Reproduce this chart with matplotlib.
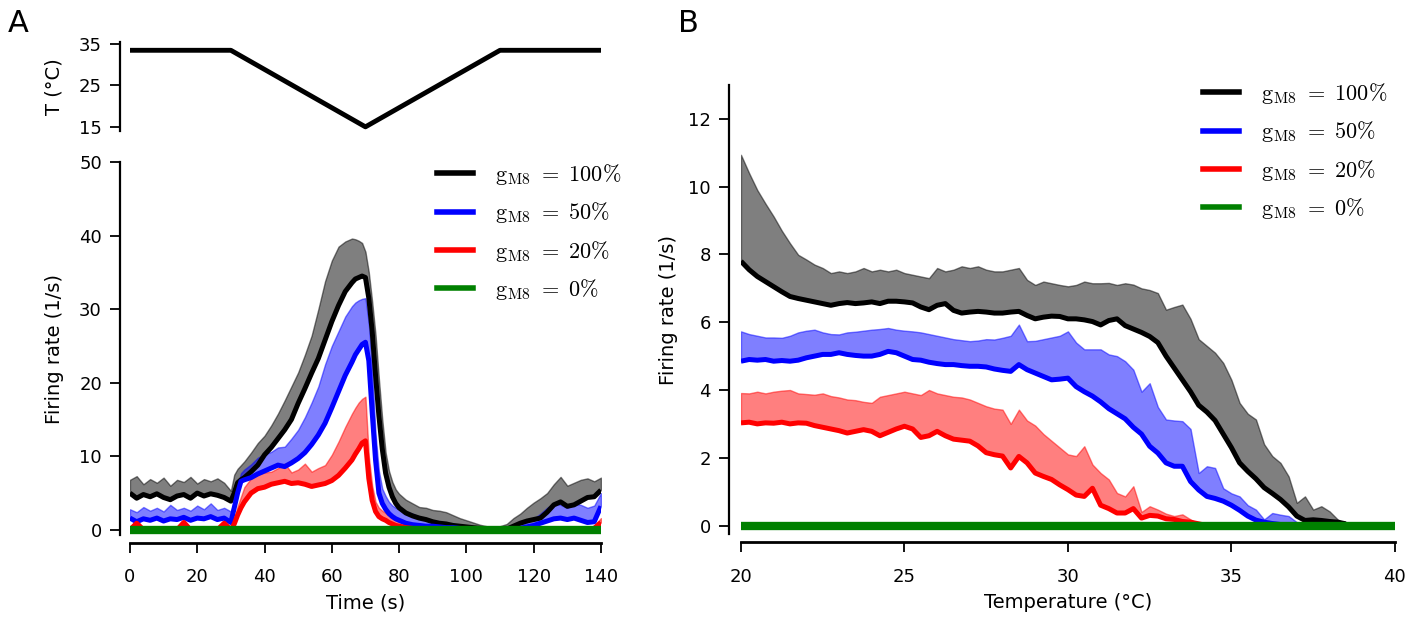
import numpy as np
import matplotlib.pyplot as plt
from matplotlib.lines import Line2D

plt.rcParams['font.family'] = 'DejaVu Sans'
plt.rcParams['mathtext.fontset'] = 'cm'

# ---------------- panel A: temperature protocol ----------------
t_temp = [0, 30, 70, 110, 140]
temp = [33.5, 33.5, 15, 33.5, 33.5]

# ---------------- panel A: firing rate vs time ----------------
t_a = [0, 2, 4, 6, 8, 10, 12, 14, 16, 18, 20, 22, 24, 26, 28, 30,
       31, 32, 33, 34,
       36, 38, 40, 42, 44, 46, 48, 50, 52, 54, 56, 58, 60, 62, 64, 66,
       67, 68, 69, 70, 71, 72, 73, 74, 75, 76, 77, 78, 79, 80,
       82, 84, 86, 88, 90, 92, 94, 96, 98, 100, 102, 104, 106, 108, 110,
       112, 114, 116, 118, 120, 122, 124, 126, 128, 130, 132, 134, 136, 138, 140]

a100_mean = [5.0, 4.3, 4.8, 4.5, 4.9, 4.4, 4.1, 4.6, 4.8, 4.3, 5.0, 4.6, 4.9, 4.7, 4.4, 3.9,
             5.0, 6.4, 6.8, 7.1,
             7.9, 8.8, 10.2, 11.2, 12.4, 13.6, 15.0, 17.2, 19.2, 21.3, 23.3, 25.8, 28.3, 30.5, 32.4, 33.6,
             34.1, 34.3, 34.5, 34.3, 31.5, 27.0, 21.0, 15.5, 11.0, 7.7, 5.8, 4.5, 3.6, 3.0,
             2.3, 1.9, 1.6, 1.4, 1.1, 0.9, 0.8, 0.6, 0.5, 0.4, 0.3, 0.2, 0.1, 0.1, 0.0,
             0.1, 0.5, 0.9, 1.2, 1.4, 1.6, 2.4, 3.4, 3.8, 3.2, 3.4, 3.9, 4.4, 4.5, 5.4]
a100_upper = [6.8, 7.3, 6.2, 6.9, 6.4, 7.1, 6.0, 6.8, 6.5, 7.2, 6.3, 6.9, 6.6, 7.0, 6.4, 5.3,
              7.5, 8.3, 8.8, 9.3,
              10.5, 11.8, 12.8, 14.2, 15.8, 17.6, 19.5, 21.4, 23.8, 26.4, 30.0, 33.8, 36.6, 38.5, 39.2, 39.6,
              39.5, 39.3, 39.0, 37.8, 35.0, 31.0, 26.5, 20.5, 15.0, 10.5, 8.0, 6.5, 5.5, 4.9,
              4.1, 3.6, 3.1, 3.0, 2.7, 2.6, 2.4, 2.0, 1.6, 1.3, 1.0, 0.7, 0.5, 0.4, 0.5,
              0.8, 1.6, 2.2, 3.0, 3.7, 4.3, 5.0, 6.2, 7.2, 6.0, 6.4, 6.8, 7.0, 6.6, 7.1]

a50_mean = [1.6, 1.1, 1.5, 1.3, 1.6, 1.2, 1.5, 1.4, 1.7, 1.3, 1.6, 1.5, 1.8, 1.4, 1.6, 1.0,
            3.0, 5.0, 6.6, 6.8,
            7.1, 7.6, 8.0, 8.4, 8.8, 8.6, 9.1, 9.7, 10.5, 11.6, 12.9, 14.5, 16.6, 18.8, 21.0, 22.8,
            23.8, 24.5, 25.2, 25.5, 23.0, 16.0, 9.5, 5.0, 3.6, 2.8, 2.2, 1.8, 1.5, 1.3,
            0.9, 0.7, 0.6, 0.5, 0.5, 0.4, 0.3, 0.3, 0.2, 0.1, 0.0, 0.0, 0.0, 0.0, 0.0,
            0.0, 0.1, 0.2, 0.4, 0.6, 0.9, 1.2, 1.5, 1.6, 1.4, 1.6, 1.3, 1.0, 1.1, 3.2]
a50_upper = [2.8, 2.4, 3.1, 2.6, 3.0, 2.5, 3.4, 2.7, 3.0, 2.6, 3.3, 2.8, 3.6, 2.7, 3.0, 2.5,
             3.8, 6.0, 7.7, 8.2,
             8.9, 9.8, 10.3, 10.6, 11.2, 11.3, 12.4, 13.6, 15.3, 17.3, 19.5, 22.5, 25.0, 27.0, 29.0, 30.4,
             30.9, 31.2, 31.4, 31.5, 28.0, 22.0, 13.0, 8.0, 5.6, 4.6, 3.8, 3.3, 3.0, 2.8,
             2.5, 2.2, 1.8, 1.5, 1.2, 1.0, 0.8, 0.6, 0.4, 0.2, 0.1, 0.0, 0.0, 0.0, 0.0,
             0.1, 0.3, 0.6, 1.0, 1.5, 2.2, 3.0, 3.6, 3.4, 3.0, 3.6, 3.4, 3.0, 3.3, 5.0]

a20_mean = [0.0, 0.9, 0.0, 0.0, 0.0, 0.0, 0.0, 0.0, 1.0, 0.0, 0.0, 0.0, 0.0, 0.0, 0.9, 0.0,
            0.8, 2.0, 3.0, 3.8,
            5.0, 5.6, 5.8, 6.2, 6.4, 6.6, 6.3, 6.4, 6.2, 5.9, 6.1, 6.3, 6.7, 7.4, 8.4, 9.5,
            10.3, 11.0, 11.8, 12.1, 7.0, 4.0, 2.5, 1.8, 1.5, 1.3, 1.0, 0.8, 0.6, 0.5,
            0.3, 0.2, 0.1, 0.1, 0.0, 0.0, 0.0, 0.0, 0.0, 0.0, 0.0, 0.0, 0.0, 0.0, 0.0,
            0.0, 0.0, 0.0, 0.0, 0.0, 0.0, 0.0, 0.0, 0.0, 0.0, 0.0, 0.0, 0.0, 0.2, 1.0]
a20_upper = [0.4, 1.3, 0.3, 0.2, 0.5, 0.2, 0.3, 0.4, 1.4, 0.3, 0.2, 0.5, 0.3, 0.4, 1.2, 0.3,
             1.5, 3.2, 4.5, 5.8,
             7.0, 7.5, 7.8, 7.9, 8.4, 9.0, 7.8, 8.2, 9.0, 7.9, 8.4, 8.8, 10.2, 12.0, 14.0, 15.8,
             16.6, 17.3, 17.8, 18.1, 10.0, 6.0, 3.8, 3.0, 2.6, 2.3, 2.0, 1.7, 1.5, 1.3,
             0.9, 0.6, 0.4, 0.3, 0.2, 0.1, 0.0, 0.0, 0.0, 0.0, 0.0, 0.0, 0.0, 0.0, 0.0,
             0.0, 0.0, 0.0, 0.0, 0.0, 0.0, 0.0, 0.0, 0.0, 0.0, 0.0, 0.0, 0.0, 0.6, 1.6]

a0_t = [0, 140]
a0_rate = [0, 0]

# ---------------- panel B: firing rate vs temperature ----------------
t_b = [20.0, 20.25, 20.5, 20.75, 21.0, 21.25, 21.5, 21.75, 22.0, 22.25, 22.5, 22.75,
       23.0, 23.25, 23.5, 23.75, 24.0, 24.25, 24.5, 24.75, 25.0, 25.25, 25.5, 25.75,
       26.0, 26.25, 26.5, 26.75, 27.0, 27.25, 27.5, 27.75, 28.0, 28.25, 28.5, 28.75,
       29.0, 29.25, 29.5, 29.75, 30.0, 30.25, 30.5, 30.75, 31.0, 31.25, 31.5, 31.75,
       32.0, 32.25, 32.5, 32.75, 33.0, 33.25, 33.5, 33.75, 34.0, 34.25, 34.5, 34.75,
       35.0, 35.25, 35.5, 35.75, 36.0, 36.25, 36.5, 36.75, 37.0, 37.25, 37.5, 37.75,
       38.0, 38.25, 38.5]

b100_mean = [7.80, 7.55, 7.35, 7.20, 7.05, 6.90, 6.76, 6.70, 6.65, 6.60, 6.55, 6.50,
             6.55, 6.58, 6.55, 6.57, 6.60, 6.55, 6.62, 6.62, 6.60, 6.57, 6.45, 6.37,
             6.50, 6.55, 6.35, 6.27, 6.30, 6.32, 6.30, 6.27, 6.27, 6.30, 6.32, 6.20,
             6.10, 6.15, 6.18, 6.17, 6.10, 6.10, 6.07, 6.02, 5.92, 6.05, 6.10, 5.90,
             5.80, 5.70, 5.58, 5.40, 5.00, 4.65, 4.30, 3.95, 3.55, 3.35, 3.10, 2.70,
             2.30, 1.85, 1.60, 1.38, 1.12, 0.95, 0.77, 0.55, 0.28, 0.15, 0.17, 0.15,
             0.12, 0.10, 0.05]
b100_upper = [10.94, 10.40, 9.90, 9.50, 9.12, 8.70, 8.33, 7.99, 7.85, 7.70, 7.60, 7.45,
              7.50, 7.45, 7.50, 7.60, 7.50, 7.55, 7.50, 7.55, 7.45, 7.40, 7.35, 7.30,
              7.60, 7.50, 7.55, 7.65, 7.60, 7.65, 7.55, 7.50, 7.50, 7.55, 7.60, 7.25,
              7.10, 7.20, 7.15, 7.10, 7.06, 7.10, 7.20, 7.15, 7.15, 7.16, 7.10, 7.15,
              7.11, 7.00, 6.95, 6.86, 6.37, 6.45, 6.52, 6.10, 5.50, 5.30, 5.10, 4.80,
              4.30, 3.62, 3.30, 3.13, 2.40, 2.05, 1.85, 1.45, 0.67, 0.86, 0.47, 0.57,
              0.42, 0.18, 0.05]

b50_mean = [4.85, 4.90, 4.88, 4.90, 4.85, 4.87, 4.85, 4.88, 4.95, 5.00, 5.05, 5.05,
            5.10, 5.05, 5.02, 5.00, 5.00, 5.05, 5.14, 5.10, 5.00, 4.90, 4.88, 4.82,
            4.78, 4.75, 4.75, 4.72, 4.70, 4.70, 4.68, 4.62, 4.58, 4.55, 4.75, 4.60,
            4.50, 4.40, 4.30, 4.32, 4.35, 4.10, 3.95, 3.82, 3.65, 3.45, 3.30, 3.15,
            2.90, 2.70, 2.34, 2.14, 1.85, 1.75, 1.75, 1.30, 1.05, 0.86, 0.80, 0.72,
            0.60, 0.45, 0.28, 0.16, 0.10, 0.06, 0.03, 0.00, 0.00, 0.00, 0.00, 0.00,
            0.00, 0.00, 0.00]
b50_upper = [5.73, 5.65, 5.60, 5.55, 5.55, 5.54, 5.60, 5.70, 5.75, 5.78, 5.70, 5.65,
             5.64, 5.70, 5.72, 5.75, 5.78, 5.80, 5.83, 5.78, 5.75, 5.73, 5.70, 5.65,
             5.60, 5.55, 5.50, 5.47, 5.44, 5.46, 5.50, 5.49, 5.54, 5.60, 5.93, 5.44,
             5.45, 5.50, 5.55, 5.60, 5.73, 5.40, 5.20, 5.20, 5.20, 5.05, 5.00, 4.85,
             4.60, 3.95, 4.20, 3.50, 3.13, 3.10, 3.08, 2.85, 1.55, 1.75, 1.70, 1.10,
             0.95, 0.86, 0.60, 0.47, 0.18, 0.37, 0.32, 0.28, 0.10, 0.00, 0.00, 0.00,
             0.00, 0.00, 0.00]

b20_mean = [3.03, 3.05, 3.00, 3.03, 3.02, 3.05, 3.00, 3.03, 3.02, 2.95, 2.90, 2.85,
            2.80, 2.73, 2.78, 2.83, 2.78, 2.65, 2.75, 2.85, 2.93, 2.85, 2.60, 2.65,
            2.78, 2.65, 2.55, 2.52, 2.49, 2.35, 2.15, 2.09, 2.05, 1.70, 2.04, 1.85,
            1.55, 1.45, 1.36, 1.20, 1.06, 0.90, 0.86, 1.10, 0.60, 0.50, 0.37, 0.37,
            0.50, 0.22, 0.30, 0.28, 0.20, 0.18, 0.12, 0.10, 0.05, 0.00, 0.00, 0.00,
            0.00, 0.00, 0.00, 0.00, 0.00, 0.00, 0.00, 0.00, 0.00, 0.00, 0.00, 0.00,
            0.00, 0.00, 0.00]
b20_upper = [3.91, 3.90, 3.95, 3.90, 3.95, 3.98, 4.00, 3.90, 3.88, 3.86, 3.90, 3.82,
             3.78, 3.72, 3.70, 3.65, 3.62, 3.80, 3.85, 3.90, 3.95, 3.90, 3.85, 4.00,
             3.90, 3.85, 3.80, 3.78, 3.72, 3.62, 3.52, 3.45, 3.42, 3.00, 3.42, 3.10,
             2.95, 2.70, 2.50, 2.30, 2.10, 2.05, 2.34, 1.80, 1.55, 1.36, 0.96, 0.86,
             1.16, 0.40, 0.57, 0.47, 0.35, 0.28, 0.33, 0.18, 0.05, 0.00, 0.00, 0.00,
             0.00, 0.00, 0.00, 0.00, 0.00, 0.00, 0.00, 0.00, 0.00, 0.00, 0.00, 0.00,
             0.00, 0.00, 0.00]

b0_t = [20, 40]
b0_rate = [0, 0]

labels = [r'$\mathrm{g_{M8}}\ =\ 100\%$', r'$\mathrm{g_{M8}}\ =\ 50\%$',
          r'$\mathrm{g_{M8}}\ =\ 20\%$', r'$\mathrm{g_{M8}}\ =\ 0\%$']
colors = ['k', 'b', 'r']


def style(ax, left_off, bottom_off):
    ax.spines['top'].set_visible(False)
    ax.spines['right'].set_visible(False)
    ax.spines['left'].set_position(('outward', left_off))
    ax.spines['bottom'].set_position(('outward', bottom_off))
    ax.spines['left'].set_linewidth(1.6)
    ax.spines['bottom'].set_linewidth(2.0)
    ax.tick_params(direction='out', length=7, width=1.3, labelsize=13,
                   top=False, right=False)
    ax.tick_params(axis='x', pad=11.5)
    ax.tick_params(axis='y', pad=6.0)


def draw(ax, x, means, uppers, x0, y0):
    for m, u, c in zip(means, uppers, colors):
        ax.fill_between(x, m, u, color=c, alpha=0.5, lw=1.0)
        ax.plot(x, m, color=c, lw=3.6, solid_capstyle='butt')
    ax.plot(x0, y0, color='g', lw=6, solid_capstyle='butt')
    handles = [Line2D([], [], color=c, lw=4) for c in ['k', 'b', 'r', 'g']]
    return handles


fig = plt.figure(figsize=(14.17, 6.17), dpi=100)
ax_t = fig.add_axes([0.0917, 0.7877, 0.3324, 0.1442])
ax_a = fig.add_axes([0.0917, 0.1329, 0.3324, 0.6045])
ax_b = fig.add_axes([0.5229, 0.1345, 0.4615, 0.7277])

# temperature protocol
ax_t.plot(t_temp, temp, color='k', lw=3.5)
ax_t.set_xlim(0, 140)
ax_t.set_ylim(14, 35.5)
style(ax_t, 7.2, 0)
ax_t.spines['bottom'].set_visible(False)
ax_t.set_xticks([])
ax_t.set_yticks([15, 25, 35])
ax_t.set_ylabel('T (°C)', fontsize=14, labelpad=11)

# firing rate vs time
h = draw(ax_a, t_a, [a100_mean, a50_mean, a20_mean],
         [a100_upper, a50_upper, a20_upper], a0_t, a0_rate)
ax_a.set_xlim(0, 140)
ax_a.set_ylim(-0.7, 50)
style(ax_a, 7.2, 5.4)
ax_a.set_xticks(range(0, 141, 20))
ax_a.set_yticks(range(0, 51, 10))
ax_a.set_xlabel('Time (s)', fontsize=14, labelpad=5)
ax_a.set_ylabel('Firing rate (1/s)', fontsize=14, labelpad=11)
ax_a.legend(h, labels, loc='upper left', bbox_to_anchor=(437 / 1417, 1 - 162 / 617),
            bbox_transform=fig.transFigure, frameon=False, fontsize=16,
            handlelength=1.6, handletextpad=1.0, labelspacing=0.6,
            borderpad=0, borderaxespad=0)

# firing rate vs temperature
h = draw(ax_b, t_b, [b100_mean, b50_mean, b20_mean],
         [b100_upper, b50_upper, b20_upper], b0_t, b0_rate)
ax_b.set_xlim(20, 40)
ax_b.set_ylim(-0.25, 13)
style(ax_b, 8.6, 5.8)
ax_b.set_xticks(range(20, 41, 5))
ax_b.set_yticks(range(0, 13, 2))
ax_b.set_xlabel('Temperature (°C)', fontsize=14, labelpad=5)
ax_b.set_ylabel('Firing rate (1/s)', fontsize=14, labelpad=7)
ax_b.legend(h, labels, loc='upper left', bbox_to_anchor=(1203 / 1417, 1 - 81 / 617),
            bbox_transform=fig.transFigure, frameon=False, fontsize=16,
            handlelength=1.6, handletextpad=1.0, labelspacing=0.6,
            borderpad=0, borderaxespad=0)

fig.text(8 / 1417, 1 - 32 / 617, 'A', fontsize=22, va='baseline')
fig.text(678 / 1417, 1 - 32 / 617, 'B', fontsize=22, va='baseline')

fig.savefig('out.png', dpi=100)
